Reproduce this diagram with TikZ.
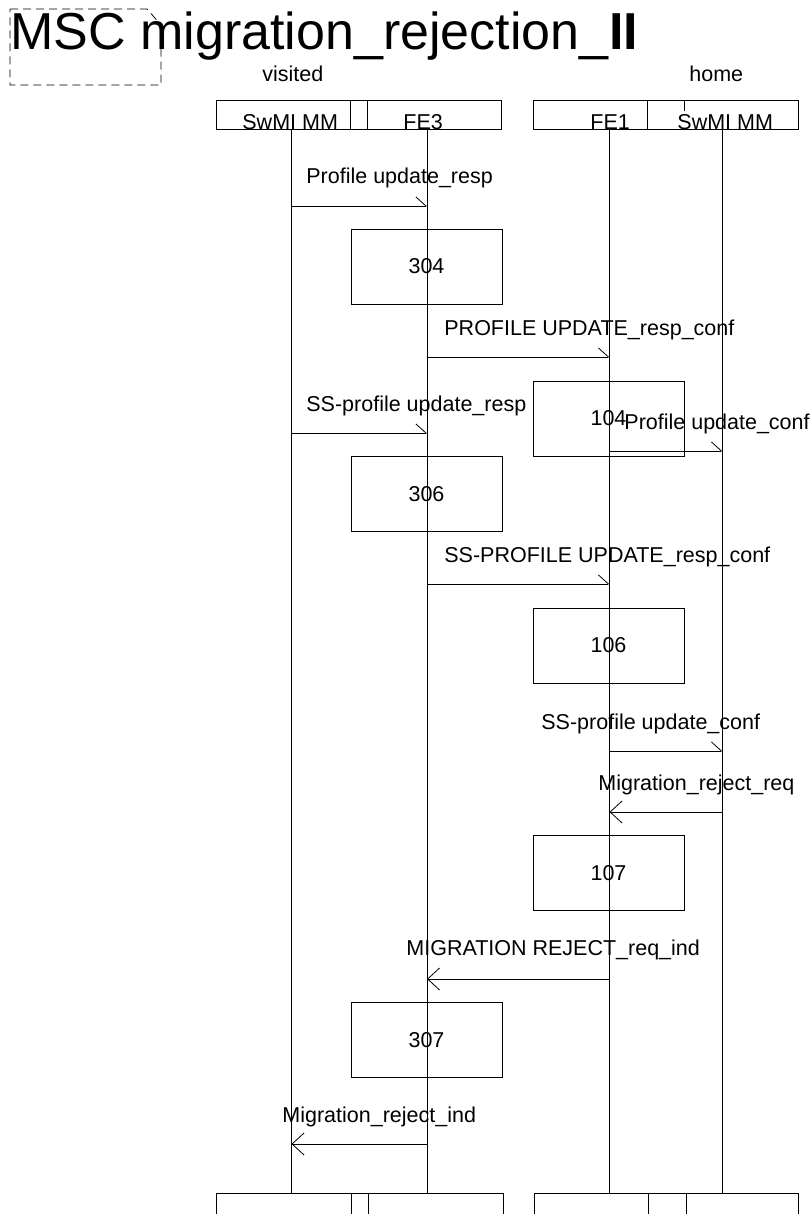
\documentclass[tikz,border=0pt]{standalone}
\usepackage{fontspec}
\setmainfont{Liberation Sans}
\usetikzlibrary{arrows.meta}
\begin{document}
\begin{tikzpicture}[x=1pt,y=-1pt,line width=0.8pt]
\tikzset{
 txt/.style={font=\fontsize{21.5}{25}\selectfont, inner sep=0pt},
 lbl/.style={txt, anchor=base west},
 hbox/.style={draw, inner sep=0pt, minimum height=29pt},
 fbox/.style={draw, inner sep=0pt, minimum height=30pt},
 actbox/.style={draw, txt, minimum width=151pt, minimum height=75pt},
 life/.style={line width=0.8pt},
 msgr/.style={-{Straight Barb[harpoon, length=10pt, width=18pt]}},
 msgl/.style={-{Straight Barb[length=12pt, width=22pt]}},
}
\useasboundingbox (0,0) rectangle (809,1214);

% title and frame corner
\node[anchor=base west, inner sep=0pt, font=\fontsize{52}{60}\selectfont] (title) at (10,50) {MSC migration\_rejection\_\textbf{II}};
\draw[dash pattern=on 8pt off 5pt, line width=0.8pt] (10,9) -- (147,9) -- (161,25) -- (161,85) -- (10,85) -- cycle;

% instance group labels
\node[lbl] (visited) at (262,82) {visited};
\node[lbl] (home) at (689,82) {home};

% header boxes
\node[hbox, minimum width=285pt] (hv) at (358.5,115) {};
\node[hbox, minimum width=17pt] (hvs) at (358.5,115) {};
\node[hbox, minimum width=265pt] (hh) at (665.5,115) {};
\draw (647,100.5) -- (647,129.5);
\draw (684,100.5) -- (684,111);
\node[lbl] (n1) at (242,130) {SwMI MM};
\node[lbl] (n2) at (403,130) {FE3};
\node[lbl] (n3) at (590,130) {FE1};
\node[lbl] (n4) at (677,130) {SwMI MM};

% footer boxes
\node[fbox, minimum width=287pt, anchor=north] (fv) at (359.5,1193) {};
\node[fbox, minimum width=17pt, anchor=north] (fvs) at (359.5,1193) {};
\node[fbox, minimum width=264pt, anchor=north] (fh) at (666,1193) {};
\node[fbox, minimum width=38pt, anchor=north] (fhs) at (667,1193) {};

% lifelines
\coordinate (a0) at (291.5,130); \coordinate (a1) at (291.5,1193);
\coordinate (b0) at (427,130);   \coordinate (b1) at (427,1193);
\coordinate (c0) at (609.5,130); \coordinate (c1) at (609.5,1193);
\coordinate (d0) at (722.5,130); \coordinate (d1) at (722.5,1193);

% action boxes
\node[actbox] (k304) at (426.5,266.5) {304};
\node[actbox] (k104) at (608.5,418.5) {104};
\node[actbox] (k306) at (426.5,494) {306};
\node[actbox] (k106) at (608.5,645.5) {106};
\node[actbox] (k107) at (608.5,873) {107};
\node[actbox] (k307) at (426.5,1040) {307};

\draw[life] (a0) -- (a1);
\draw[life] (b0) -- (b1);
\draw[life] (c0) -- (c1);
\draw[life] (d0) -- (d1);

% messages
\coordinate (m1a) at (291.5,206); \coordinate (m1b) at (427,206);
\draw[msgr] (m1a) -- (m1b);
\node[lbl] (l1) at (306,184) {Profile update\_resp};

\coordinate (m2a) at (427,357); \coordinate (m2b) at (609.5,357);
\draw[msgr] (m2a) -- (m2b);
\node[lbl] (l2) at (444,335) {PROFILE UPDATE\_resp\_conf};

\coordinate (m3a) at (291.5,433); \coordinate (m3b) at (427,433);
\draw[msgr] (m3a) -- (m3b);
\node[lbl] (l3) at (306,411) {SS-profile update\_resp};

\coordinate (m4a) at (609.5,451); \coordinate (m4b) at (722.5,451);
\draw[msgr] (m4a) -- (m4b);
\node[lbl] (l4) at (624,429) {Profile update\_conf};

\coordinate (m5a) at (427,584); \coordinate (m5b) at (609.5,584);
\draw[msgr] (m5a) -- (m5b);
\node[lbl] (l5) at (444,562) {SS-PROFILE UPDATE\_resp\_conf};

\coordinate (m6a) at (609.5,751); \coordinate (m6b) at (722.5,751);
\draw[msgr] (m6a) -- (m6b);
\node[lbl] (l6) at (541,729) {SS-profile update\_conf};

\coordinate (m7a) at (722.5,812); \coordinate (m7b) at (609.5,812);
\draw[msgl] (m7a) -- (m7b);
\node[lbl] (l7) at (598,790) {Migration\_reject\_req};

\coordinate (m8a) at (609.5,979); \coordinate (m8b) at (427,979);
\draw[msgl] (m8a) -- (m8b);
\node[lbl] (l8) at (406,955) {MIGRATION REJECT\_req\_ind};

\coordinate (m9a) at (427,1144); \coordinate (m9b) at (291.5,1144);
\draw[msgl] (m9a) -- (m9b);
\node[lbl] (l9) at (282,1122) {Migration\_reject\_ind};
\end{tikzpicture}
\end{document}
